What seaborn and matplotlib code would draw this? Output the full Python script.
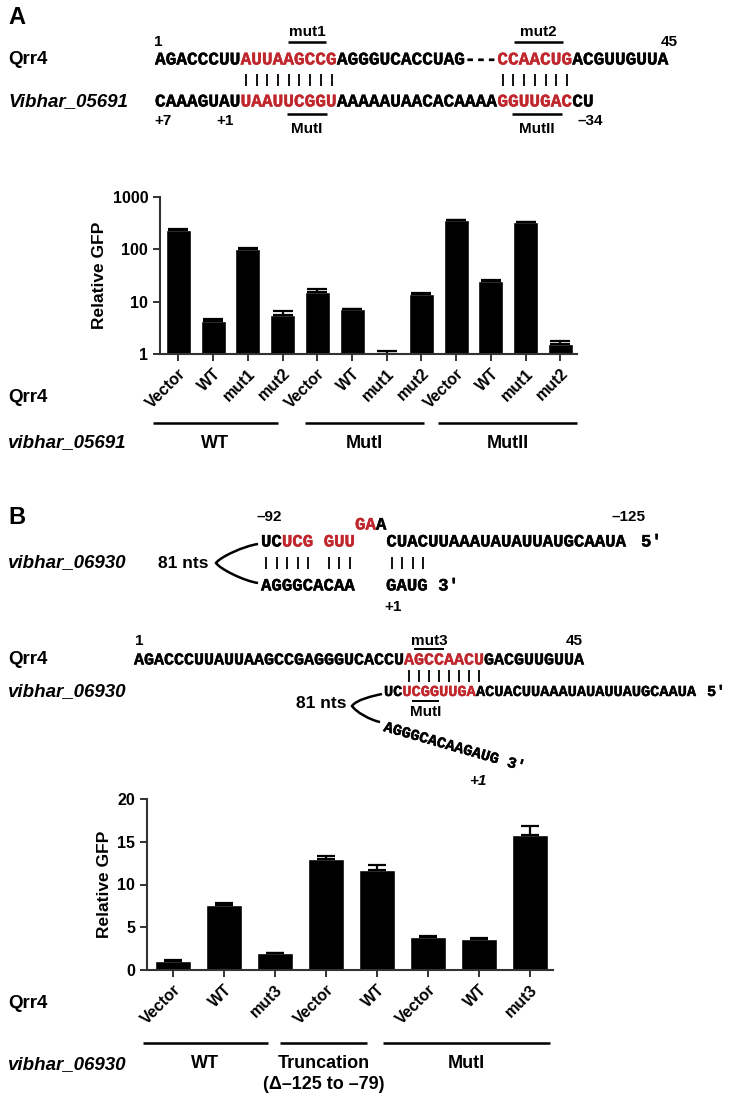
import numpy as np
import pandas as pd
import matplotlib
matplotlib.use("Agg")
import matplotlib.pyplot as plt
import matplotlib.patheffects as pe
from matplotlib.path import Path
from matplotlib.patches import PathPatch
from matplotlib.ticker import NullLocator
import seaborn as sns

# === data: panel A (log scale) ===
a_qrr4 = ["Vector", "WT", "mut1", "mut2"] * 3
a_target = ["WT"] * 4 + ["MutI"] * 4 + ["MutII"] * 4
a_gfp = [234, 4.3, 100, 5.6, 15.1, 7.2, 1.0, 13.8, 364, 25.2, 330, 1.55]
a_err = [8, 0.3, 4, 1.0, 2.4, 0.2, 0.16, 1.0, 6, 0.8, 8, 0.25]
a_groups = ["WT", "MutI", "MutII"]

# === data: panel B (linear) ===
b_qrr4 = ["Vector", "WT", "mut3", "Vector", "WT", "Vector", "WT", "mut3"]
b_target = ["WT"] * 3 + ["Truncation"] * 2 + ["MutI"] * 3
b_gfp = [1.1, 7.55, 1.95, 13.0, 11.75, 3.9, 3.63, 15.75]
b_err = [0.07, 0.25, 0.06, 0.35, 0.58, 0.06, 0.1, 1.1]
b_groups = ["WT", "Truncation\n(\u0394\u2013125 to \u201379)", "MutI"]

RED = "#c0272d"
K = "black"

sns.set_style("ticks")
plt.rcParams["font.family"] = ["Liberation Sans", "DejaVu Sans"]
plt.rcParams["font.weight"] = "bold"
for key in ["text.color", "axes.labelcolor", "xtick.color", "ytick.color"]:
    plt.rcParams[key] = "black"
MONO = ["Liberation Mono", "DejaVu Sans Mono"]
LAB = 13.5  # row labels (Qrr4, vibhar_...)

W, H = 734, 1096
fig = plt.figure(figsize=(W / 100, H / 100), dpi=100)

# overlay in pixel coords for the sequence diagrams
ov = fig.add_axes([0, 0, 1, 1])
ov.set_xlim(0, W)
ov.set_ylim(H, 0)
ov.axis("off")


def txt(x, y, s, size=11, ha="center", style="normal", **kw):
    ov.text(x, y, s, ha=ha, va="center", fontsize=size, fontweight="bold",
            fontstyle=style, **kw)


def mono(x, y, s, color, size, **kw):
    ov.text(x, y, s, color=color, va="center", fontsize=size, family=MONO,
            fontweight="bold",
            path_effects=[pe.withStroke(linewidth=0.3, foreground=color)], **kw)


def seq(x0, y, cw, segs, size):
    col = 0
    for s, c in segs:
        mono(x0 + col * cw, y, s, c, size, ha="left")
        col += len(s)


def pairs(x0, y, cw, cols, h=12):
    xs = [x0 + (c + 0.5) * cw for c in cols]
    ov.vlines(xs, y - h / 2, y + h / 2, color=K, lw=1.3)


def hline(x1, x2, y, lw=1.8):
    ov.plot([x1, x2], [y, y], color=K, lw=lw, solid_capstyle="butt")


def bracket(p0, p1, p2, bend):
    verts = [p0, (p0[0] - bend, p0[1] + 2), (p1[0] + 4, p1[1] - 6), p1,
             (p1[0] + 4, p1[1] + 6), (p2[0] - bend, p2[1] - 2), p2]
    codes = [Path.MOVETO] + [Path.CURVE4] * 6
    ov.add_patch(PathPatch(Path(verts, codes), fc="none", ec=K, lw=1.8))


# ---------------- panel A sequences ----------------
txt(8, 18, "A", size=17, ha="left")
cwA, fsA, xA = 10.7, 12.8, 155
txt(158, 42, "1")
txt(669, 42, "45")
txt(307, 32, "mut1")
txt(538, 32, "mut2")
hline(288, 326, 42)
hline(514, 563, 42)
txt(8, 60, "Qrr4", size=LAB, ha="left")
seq(xA, 60, cwA, [("AGACCCUU", K), ("AUUAAGCCG", RED), ("AGGGUCACCUAG---", K),
                  ("CCAACUG", RED), ("ACGUUGUUA", K)], fsA)
pairs(xA, 80, cwA, list(range(8, 17)) + list(range(32, 39)))
txt(8, 102, "Vibhar_05691", size=LAB, ha="left", style="italic")
seq(xA, 102, cwA, [("CAAAGUAU", K), ("UAAUUCGGU", RED), ("AAAAAUAACACAAAA", K),
                   ("GGUUGAC", RED), ("CU", K)], fsA)
txt(163, 121, "+7")
txt(225, 121, "+1")
txt(590, 121, "\u201334")
hline(287, 327, 114)
hline(512, 562, 114)
txt(307, 129, "MutI")
txt(537, 129, "MutII")

# ---------------- panel A chart ----------------
axA = fig.add_axes([160 / W, 1 - 354 / H, (577 - 160) / W, (354 - 197) / H])
dfA = pd.DataFrame({"cond": [f"{t}_{q}" for t, q in zip(a_target, a_qrr4)],
                    "gfp": a_gfp})
axA.set_yscale("log")
sns.barplot(data=dfA, x="cond", y="gfp", color=K, saturation=1, width=0.72,
            errorbar=None, ax=axA)
axA.errorbar(np.arange(len(a_gfp)), a_gfp, yerr=[np.zeros(len(a_err)), a_err],
             fmt="none", ecolor=K, elinewidth=1.6, capsize=7, capthick=1.6)
axA.set_ylim(1, 1000)
axA.set_yticks([1, 10, 100, 1000])
axA.set_yticklabels(["1", "10", "100", "1000"])
axA.yaxis.set_minor_locator(NullLocator())
axA.set_xlim(-0.53, 11.48)

# ---------------- panel B chart ----------------
axB = fig.add_axes([147 / W, 1 - 970 / H, (553 - 147) / W, (970 - 799) / H])
dfB = pd.DataFrame({"cond": [f"{t}_{q}" for t, q in zip(b_target, b_qrr4)],
                    "gfp": b_gfp})
sns.barplot(data=dfB, x="cond", y="gfp", color=K, saturation=1, width=0.70,
            errorbar=None, ax=axB)
axB.errorbar(np.arange(len(b_gfp)), b_gfp, yerr=[np.zeros(len(b_err)), b_err],
             fmt="none", ecolor=K, elinewidth=1.6, capsize=6.5, capthick=1.6)
axB.set_ylim(0, 20)
axB.set_yticks([0, 5, 10, 15, 20])
axB.set_xlim(-0.51, 7.45)

for ax, labels in [(axA, a_qrr4), (axB, b_qrr4)]:
    ax.set_xticks(range(len(labels)))
    ax.set_xticklabels(labels, rotation=45, ha="right", rotation_mode="anchor",
                       fontsize=12, fontweight="bold")
    ax.set_xlabel("")
    ax.set_ylabel("Relative GFP", fontsize=12.5, fontweight="bold")
    ax.tick_params(axis="both", length=5, width=1.4, color="#333333",
                   labelsize=11.5)
    for lab in ax.get_yticklabels():
        lab.set_fontweight("bold")
    sns.despine(ax=ax)
    for sp in ["left", "bottom"]:
        ax.spines[sp].set_linewidth(1.5)
        ax.spines[sp].set_color("#333333")
    ax.patch.set_alpha(0)

# group rows under panel A
txt(8, 397, "Qrr4", size=LAB, ha="left")
for (x1, x2), g in zip([(153, 278), (305, 424), (438, 577)], a_groups):
    hline(x1, x2, 423)
    txt((x1 + x2) / 2, 443, g, size=13)
txt(8, 443, "vibhar_05691", size=LAB, ha="left", style="italic")

# ---------------- panel B sequences (upper) ----------------
txt(8, 517, "B", size=17, ha="left")
cwB1, fsB1, xB1 = 10.45, 12.5, 261
txt(269, 517, "\u201392")
txt(628, 517, "\u2013125")
seq(xB1 + 9 * cwB1, 525, cwB1, [("GA", RED), ("A", K)], fsB1)
seq(xB1, 542, cwB1, [("UC", K), ("UCG", RED), (" ", K), ("GUU", RED), ("   ", K),
                     ("CUACUUAAAUAUAUUAUGCAAUA", K)], fsB1)
mono(641, 542, "5\u2032", K, fsB1, ha="left")
pairs(xB1, 563, cwB1, [0, 1, 2, 3, 4, 6, 7, 8, 12, 13, 14, 15])
seq(xB1, 586, cwB1, [("AGGGCACAA   GAUG 3\u2032", K)], fsB1)
txt(393, 607, "+1")
txt(8, 563, "vibhar_06930", size=LAB, ha="left", style="italic")
txt(208, 563, "81 nts", size=12.5, ha="right")
bracket((258, 544), (216, 563), (258, 583), 14)

# ---------------- panel B sequences (lower) ----------------
cwB2, fsB2, xB2 = 10.0, 12.0, 134
txt(xB2 + 0.5 * cwB2, 641, "1")
txt(xB2 + 44 * cwB2, 641, "45")
txt(xB2 + 29.5 * cwB2, 641, "mut3")
hline(xB2 + 28 * cwB2, xB2 + 31 * cwB2, 649, lw=1.4)
txt(8, 660, "Qrr4", size=LAB, ha="left")
seq(xB2, 660, cwB2, [("AGACCCUUAUUAAGCCGAGGGUCACCU", K), ("AGCCAACU", RED),
                     ("GACGUUGUUA", K)], fsB2)
pairs(xB2, 676, cwB2, range(27, 35))
cwB3, xB3 = 9.2, xB2 + 25 * cwB2
seq(xB3, 692, cwB3, [("UC", K), ("UCGGUUGA", RED),
                     ("ACUACUUAAAUAUAUUAUGCAAUA", K)], 11.0)
mono(707, 692, "5\u2032", K, 11.0, ha="left")
hline(xB3 + 3 * cwB3, xB3 + 6 * cwB3, 701, lw=1.4)
txt(xB3 + 4.5 * cwB3, 712, "MutI")
txt(8, 692, "vibhar_06930", size=LAB, ha="left", style="italic")
txt(346, 703, "81 nts", size=12.5, ha="right")
bracket((382, 694), (352, 706), (380, 722), 10)
mono(384, 727, "AGGGCACAAGAUG 3\u2032", K, 11.0, rotation=-16,
     rotation_mode="anchor", ha="left")
txt(478, 781, "+1", style="italic")

# group rows under panel B
txt(8, 1003, "Qrr4", size=LAB, ha="left")
for (x1, x2), g in zip([(143, 268), (280, 367), (383, 550)], b_groups):
    hline(x1, x2, 1043)
    ov.text((x1 + x2) / 2, 1055, g, ha="center", va="top", fontsize=13,
            fontweight="bold", linespacing=1.3)
txt(8, 1065, "vibhar_06930", size=LAB, ha="left", style="italic")

fig.savefig("out.png", dpi=100)
